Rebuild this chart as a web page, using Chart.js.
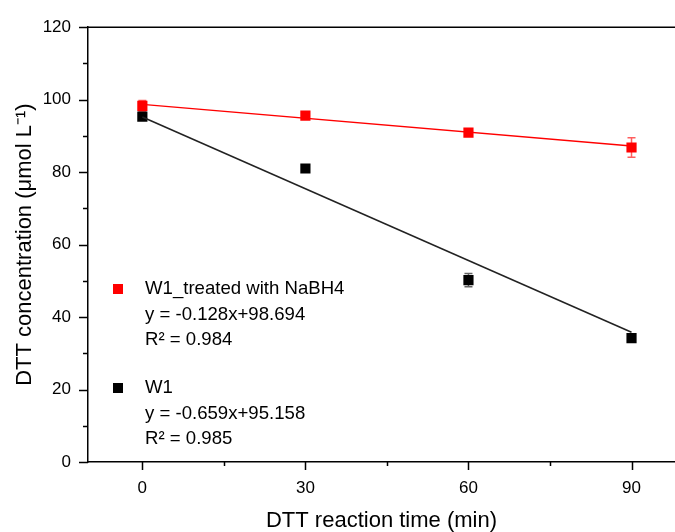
<!DOCTYPE html>
<html>
<head>
<meta charset="utf-8">
<script src="https://cdn.jsdelivr.net/npm/chart.js@4.4.1/dist/chart.umd.min.js"></script>
<style>
  html, body { margin: 0; padding: 0; background: #fff; overflow: hidden; }
  #wrap { width: 675px; height: 532px; }
</style>
</head>
<body>
<div id="wrap"><canvas id="grafico"></canvas></div>
<script>
// datos
const tiempos = [0, 30, 60, 90];
const tratado = [98.3, 95.6, 90.9, 86.8];
const tratadoErr = [1.5, 0.6, 0.8, 2.7];
const w1 = [95.3, 81.0, 50.2, 34.2];
const w1Err = [0.8, 0.6, 1.8, 0.7];
const ajusteTratado = [98.7, 87.2];
const ajusteW1 = [95.2, 35.8];
const ajusteX = [0, 90];

const xTicks = [0, 15, 30, 45, 60, 75, 90];
const xMayores = [0, 30, 60, 90];
const yTicks = [0, 10, 20, 30, 40, 50, 60, 70, 80, 90, 100, 110, 120];
const yMayores = [0, 20, 40, 60, 80, 100, 120];

const leyenda = [
  { color: '#ff0000', lineas: ['W1_treated with NaBH4', 'y = -0.128x+98.694', 'R\u00B2 = 0.984'] },
  { color: '#000000', lineas: ['W1', 'y = -0.659x+95.158', 'R\u00B2 = 0.985'] }
];

const fuente = "'Liberation Sans', Arial, sans-serif";

function puntos(xs, ys) {
  return xs.map((x, i) => ({ x: x, y: ys[i] }));
}

// barras de error, ticks menores/mayores, linea superior y leyenda
const extras = {
  id: 'extras',
  beforeDatasetsDraw(chart) {
    const ctx = chart.ctx;
    const xs = chart.scales.x, ys = chart.scales.y;
    const series = [
      { vals: tratado, err: tratadoErr, color: 'rgba(255,40,40,0.75)' },
      { vals: w1, err: w1Err, color: 'rgba(60,60,60,0.8)' }
    ];
    ctx.save();
    ctx.lineWidth = 1.5;
    series.forEach(s => {
      ctx.strokeStyle = s.color;
      tiempos.forEach((t, i) => {
        const px = xs.getPixelForValue(t);
        const top = ys.getPixelForValue(s.vals[i] + s.err[i]);
        const bot = ys.getPixelForValue(s.vals[i] - s.err[i]);
        ctx.beginPath();
        ctx.moveTo(px, top); ctx.lineTo(px, bot);
        ctx.moveTo(px - 4, top); ctx.lineTo(px + 4, top);
        ctx.moveTo(px - 4, bot); ctx.lineTo(px + 4, bot);
        ctx.stroke();
      });
    });
    ctx.restore();
  },
  afterDraw(chart) {
    const ctx = chart.ctx;
    const xs = chart.scales.x, ys = chart.scales.y;
    const area = chart.chartArea;
    ctx.save();
    ctx.strokeStyle = '#000';
    ctx.lineWidth = 1.5;
    ctx.beginPath();
    ctx.moveTo(area.left, area.top);
    ctx.lineTo(area.right + 2, area.top);
    xs.ticks.forEach(t => {
      const px = Math.round(xs.getPixelForValue(t.value)) + 0.5;
      const largo = xMayores.includes(t.value) ? 8 : 4;
      ctx.moveTo(px, area.bottom);
      ctx.lineTo(px, area.bottom + largo);
    });
    ys.ticks.forEach(t => {
      const py = Math.round(ys.getPixelForValue(t.value)) + 0.5;
      const largo = yMayores.includes(t.value) ? 9 : 5;
      ctx.moveTo(area.left, py);
      ctx.lineTo(area.left - largo, py);
    });
    ctx.stroke();

    // leyenda
    ctx.font = '18.6px ' + fuente;
    ctx.textBaseline = 'middle';
    let y0 = 289;
    leyenda.forEach(item => {
      ctx.fillStyle = item.color;
      ctx.fillRect(113, y0 - 5, 10, 10);
      ctx.fillStyle = '#000';
      item.lineas.forEach((txt, j) => {
        ctx.fillText(txt, 145, y0 + j * 25.5);
      });
      y0 += 99;
    });
    ctx.restore();
  }
};

new Chart(document.getElementById('grafico'), {
  type: 'scatter',
  data: {
    datasets: [
      {
        label: 'ajuste W1',
        type: 'line',
        data: puntos(ajusteX, ajusteW1),
        borderColor: '#222',
        borderWidth: 1.5,
        pointRadius: 0,
        fill: false
      },
      {
        label: 'ajuste tratado',
        type: 'line',
        data: puntos(ajusteX, ajusteTratado),
        borderColor: '#ff0000',
        borderWidth: 1.5,
        pointRadius: 0,
        fill: false
      },
      {
        label: 'W1',
        data: puntos(tiempos, w1),
        pointStyle: 'rect',
        pointRadius: 7.2,
        backgroundColor: '#000',
        borderWidth: 0
      },
      {
        label: 'W1_treated with NaBH4',
        data: puntos(tiempos, tratado),
        pointStyle: 'rect',
        pointRadius: 7.2,
        backgroundColor: '#ff0000',
        borderWidth: 0
      }
    ]
  },
  options: {
    responsive: true,
    maintainAspectRatio: false,
    animation: false,
    layout: { autoPadding: false, padding: { top: 23, right: 0, left: 0, bottom: 0 } },
    plugins: { legend: { display: false }, tooltip: { enabled: false } },
    scales: {
      x: {
        type: 'linear',
        min: -10,
        max: 98,
        afterFit: s => { s.height = 70; },
        afterBuildTicks: s => { s.ticks = xTicks.map(v => ({ value: v })); },
        grid: { display: false, drawTicks: false },
        border: { display: true, color: '#000', width: 1.5 },
        ticks: {
          padding: 16,
          color: '#000',
          maxRotation: 0,
          font: { family: fuente, size: 17 },
          callback: v => xMayores.includes(v) ? String(v) : ''
        },
        title: {
          display: true,
          text: 'DTT reaction time (min)',
          color: '#000',
          font: { family: fuente, size: 22, lineHeight: 1 },
          padding: { top: 0, bottom: 0 }
        }
      },
      y: {
        type: 'linear',
        min: 0,
        max: 120,
        afterFit: s => { s.width = 88; },
        afterBuildTicks: s => { s.ticks = yTicks.map(v => ({ value: v })); },
        grid: { display: false, drawTicks: false },
        border: { display: true, color: '#000', width: 1.5 },
        ticks: {
          padding: 17,
          color: '#000',
          font: { family: fuente, size: 17 },
          callback: v => yMayores.includes(v) ? String(v) : ''
        },
        title: {
          display: true,
          text: 'DTT concentration (\u03BCmol L\u207B\u00B9)',
          color: '#000',
          font: { family: fuente, size: 22, lineHeight: 1 },
          padding: { top: 14, bottom: 0 }
        }
      }
    }
  },
  plugins: [extras]
});
</script>
</body>
</html>
